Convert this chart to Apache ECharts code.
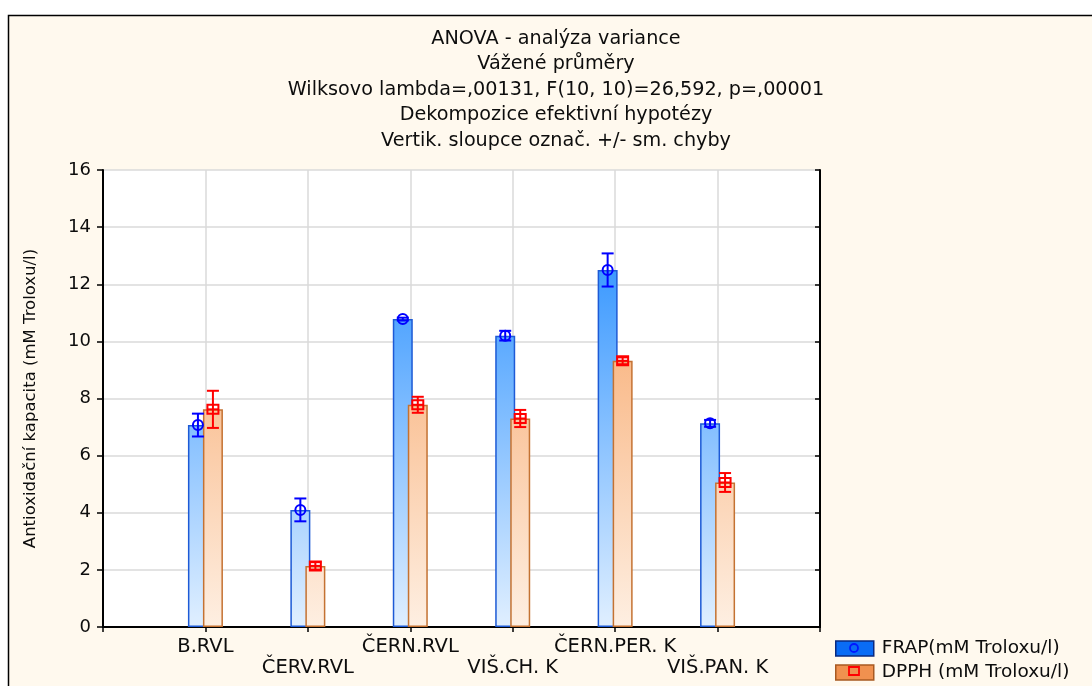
<!DOCTYPE html>
<html>
<head>
<meta charset="utf-8">
<script src="https://cdn.jsdelivr.net/npm/echarts@6/dist/echarts.min.js"></script>
<style>
html,body{margin:0;padding:0;background:#ffffff;}
#chart{width:1092px;height:686px;}
</style>
</head>
<body>
<div id="chart"></div>
<script>
// ---- data ----
const categories = ['B.RVL', 'ČERV.RVL', 'ČERN.RVL', 'VIŠ.CH. K', 'ČERN.PER. K', 'VIŠ.PAN. K'];
const frap    = [7.07, 4.10, 10.78, 10.20, 12.50, 7.13];
const frapErr = [0.40, 0.40, 0.05, 0.17, 0.58, 0.12];
const dpph    = [7.62, 2.14, 7.78, 7.30, 9.32, 5.06];
const dpphErr = [0.65, 0.13, 0.28, 0.30, 0.12, 0.33];
const yTickLabels = ['0', '2', '4', '6', '8', '10', '12', '14', '16'];
const seriesNames = ['FRAP(mM Troloxu/l)', 'DPPH (mM Troloxu/l)'];
const titleLines = [
  'ANOVA - analýza variance',
  'Vážené průměry',
  'Wilksovo lambda=,00131, F(10, 10)=26,592, p=,00001',
  'Dekompozice efektivní hypotézy',
  'Vertik. sloupce označ. +/- sm. chyby'
];
const yAxisName = 'Antioxidační kapacita (mM Troloxu/l)';

// ---- layout / style ----
const FONT = 'DejaVu Sans';
const G = {left: 103, top: 170, right: 272, bottom: 59};
const gridTopPx = G.top, gridBottomPx = 686 - G.bottom;
const BW = 20, GAP = -0.25;
const overlap = BW * GAP;
const offFrap = -(BW + overlap) / 2;
const offDpph = (BW + overlap) / 2;
const CAP = 6;

const axisCats = [''].concat(categories, ['']);
const yMin = 0, yMax = Number(yTickLabels[yTickLabels.length - 1]), yStep = Number(yTickLabels[1]);

const frapData = frap.map((v, i) => [i + 1, v]);
const dpphData = dpph.map((v, i) => [i + 1, v]);
const frapErrData = frap.map((v, i) => [i + 1, v, frapErr[i]]);
const dpphErrData = dpph.map((v, i) => [i + 1, v, dpphErr[i]]);

const blueGrad = new echarts.graphic.LinearGradient(0, gridTopPx, 0, gridBottomPx,
  [{offset: 0, color: '#0F82FF'}, {offset: 1, color: '#E0EFFF'}], true);
const orangeGrad = new echarts.graphic.LinearGradient(0, gridTopPx, 0, gridBottomPx,
  [{offset: 0, color: '#F6954C'}, {offset: 1, color: '#FEEFE2'}], true);

function errRender(offset, color, kind) {
  return function (params, api) {
    const x = api.value(0), m = api.value(1), e = api.value(2);
    const c = api.coord([x, m]);
    const hi = api.coord([x, m + e]);
    const lo = api.coord([x, m - e]);
    const cx = c[0] + offset;
    const st = {stroke: color, lineWidth: 2, fill: 'none'};
    const ch = [
      {type: 'line', shape: {x1: cx, y1: hi[1], x2: cx, y2: lo[1]}, style: st},
      {type: 'line', shape: {x1: cx - CAP, y1: hi[1], x2: cx + CAP, y2: hi[1]}, style: st},
      {type: 'line', shape: {x1: cx - CAP, y1: lo[1], x2: cx + CAP, y2: lo[1]}, style: st}
    ];
    if (kind === 'circle') {
      ch.push({type: 'circle', shape: {cx: cx, cy: c[1], r: 5}, style: st});
    } else {
      ch.push({type: 'rect', shape: {x: cx - 5.5, y: c[1] - 4.5, width: 11, height: 9}, style: st});
      ch.push({type: 'line', shape: {x1: cx - 5.5, y1: c[1], x2: cx + 5.5, y2: c[1]}, style: st});
    }
    return {type: 'group', children: ch};
  };
}

const legendLeft = 835, legendTop = 639, legItemW = 38, legItemH = 15, legStep = 23;

const chart = echarts.init(document.getElementById('chart'));
chart.setOption({
  backgroundColor: '#ffffff',
  animation: false,
  graphic: [
    {type: 'rect', z: -100, shape: {x: 8.5, y: 15.5, width: 1120, height: 700},
      style: {fill: '#FFF9EE', stroke: '#000000', lineWidth: 1.5}},
    {type: 'text', z: 10, x: 556, y: 26,
      style: {text: titleLines.join('\n'), fontFamily: FONT, fontSize: 19.2, lineHeight: 25.5,
        fill: '#0d0d0d', align: 'center', textAlign: 'center', verticalAlign: 'top', textVerticalAlign: 'top'}},
    {type: 'circle', z: 100, shape: {cx: legendLeft + legItemW / 2, cy: legendTop + 9, r: 4},
      style: {fill: 'none', stroke: '#0018FF', lineWidth: 1.8}},
    {type: 'rect', z: 100, shape: {x: legendLeft + legItemW / 2 - 5, y: legendTop + 9 + legStep - 4, width: 10, height: 8},
      style: {fill: 'none', stroke: '#FF0000', lineWidth: 1.8}}
  ],
  legend: {
    orient: 'vertical',
    left: legendLeft,
    top: legendTop,
    padding: 0,
    itemGap: legStep - 18,
    itemWidth: legItemW,
    itemHeight: legItemH,
    textStyle: {fontFamily: FONT, fontSize: 18.5, color: '#0d0d0d', padding: [0, 0, 0, 3]},
    data: [
      {name: seriesNames[0], icon: 'rect', itemStyle: {color: '#0A6CF5', borderColor: '#0A2A80', borderWidth: 1.5}},
      {name: seriesNames[1], icon: 'rect', itemStyle: {color: '#F0914F', borderColor: '#A85A22', borderWidth: 1.5}}
    ]
  },
  grid: {left: G.left, top: G.top, right: G.right, bottom: G.bottom, show: true,
    backgroundColor: '#ffffff', borderWidth: 0},
  xAxis: [
    {
      type: 'category', data: axisCats, boundaryGap: false, position: 'bottom',
      axisLine: {lineStyle: {color: '#000000', width: 2}},
      axisTick: {inside: true, length: 5, interval: 0, lineStyle: {color: '#000000', width: 1.5}},
      axisLabel: {
        interval: 0, margin: 9, fontFamily: FONT, fontSize: 19.5, color: '#0d0d0d', lineHeight: 21,
        formatter: function (v, idx) {
          if (!v) return '';
          return (idx % 2 === 1) ? v : '\n' + v;
        }
      },
      splitLine: {show: true, lineStyle: {color: '#DADADA', width: 1.5}}
    },
    {
      type: 'category', data: axisCats, boundaryGap: false, position: 'top',
      axisLine: {lineStyle: {color: '#000000', width: 2}},
      axisTick: {inside: true, length: 5, interval: 0, lineStyle: {color: '#000000', width: 1.5}},
      axisLabel: {show: false}, splitLine: {show: false}
    }
  ],
  yAxis: [
    {
      type: 'value', min: yMin, max: yMax, interval: yStep, position: 'left',
      name: yAxisName, nameLocation: 'middle', nameGap: 64, nameRotate: 90,
      nameTextStyle: {fontFamily: FONT, fontSize: 16.5, color: '#0d0d0d'},
      axisLine: {show: true, lineStyle: {color: '#000000', width: 2}},
      axisTick: {show: true, inside: false, length: 6, lineStyle: {color: '#000000', width: 1.5}},
      axisLabel: {margin: 12, fontFamily: FONT, fontSize: 18, color: '#0d0d0d',
        formatter: function (v) { return yTickLabels[Math.round((v - yMin) / yStep)]; }},
      splitLine: {show: true, lineStyle: {color: '#DADADA', width: 1.5}}
    },
    {
      type: 'value', min: yMin, max: yMax, interval: yStep, position: 'right',
      axisLine: {show: true, lineStyle: {color: '#000000', width: 2}},
      axisTick: {show: true, inside: true, length: 5, lineStyle: {color: '#000000', width: 1.5}},
      axisLabel: {show: false}, splitLine: {show: false}
    }
  ],
  series: [
    {
      name: seriesNames[0], type: 'bar', data: frapData, barWidth: BW, barGap: (GAP * 100) + '%',
      itemStyle: {color: blueGrad, borderColor: '#1D5AD6', borderWidth: 1.5}, z: 2
    },
    {
      name: seriesNames[1], type: 'bar', data: dpphData, barWidth: BW, barGap: (GAP * 100) + '%',
      itemStyle: {color: orangeGrad, borderColor: '#C47232', borderWidth: 1.5}, z: 3
    },
    {
      name: 'frapErr', type: 'custom', data: frapErrData, z: 5,
      encode: {x: 0, y: 1}, renderItem: errRender(offFrap, '#0000FF', 'circle')
    },
    {
      name: 'dpphErr', type: 'custom', data: dpphErrData, z: 6,
      encode: {x: 0, y: 1}, renderItem: errRender(offDpph, '#FF0000', 'square')
    }
  ]
});
</script>
</body>
</html>
